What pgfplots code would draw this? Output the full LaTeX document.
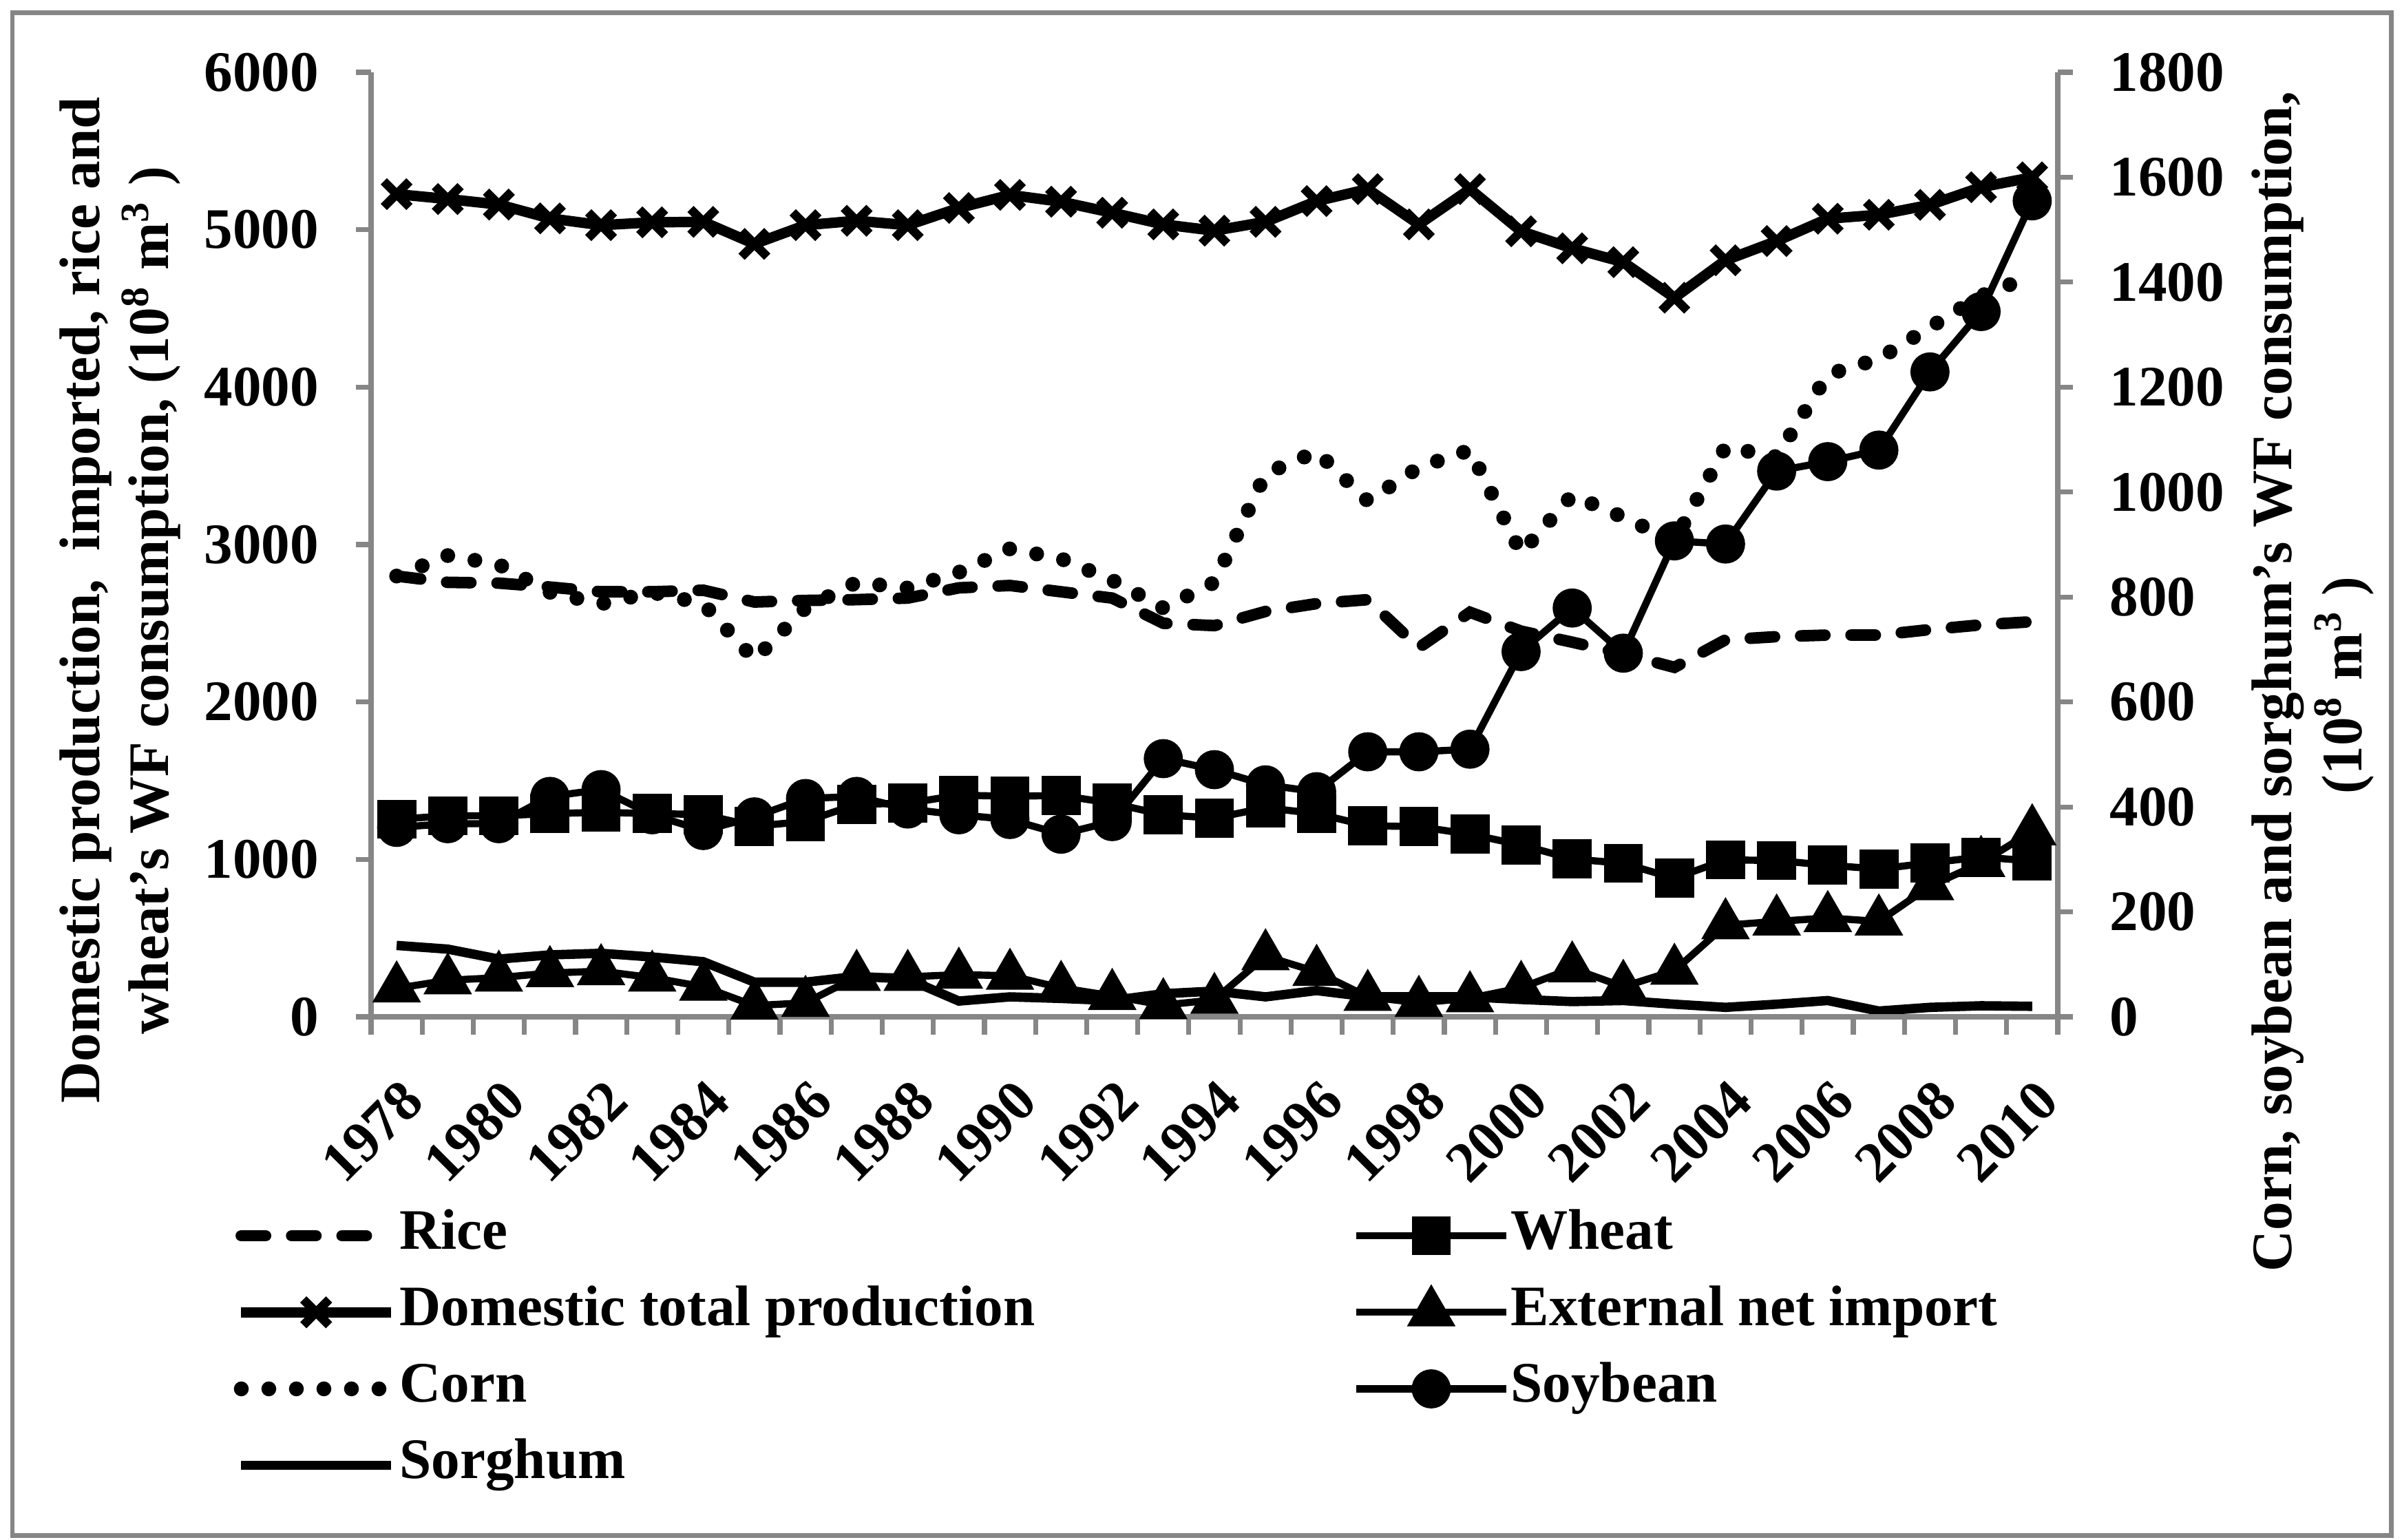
\documentclass[border=0pt]{standalone}
\usepackage{fontspec}
\setmainfont{Liberation Serif}
\usepackage{pgfplots}
\pgfplotsset{compat=1.18}
\definecolor{axgray}{RGB}{134,134,134}
\newcommand\lbl{\fontsize{10.4}{12.5}\selectfont\bfseries}

\pgfplotsset{
  common/.style={
    at={(67.375pt,94.875pt)}, anchor=south west, scale only axis,
    width=306.25pt, height=171.5pt,
    xmin=1977.5, xmax=2010.5, clip=false,
    axis line style={draw=axgray, line width=0.9pt},
    tick align=outside, major tick length=2.75pt, minor tick length=3.25pt,
    tick style={draw=axgray, line width=0.9pt},
    tick label style={font=\lbl},
    /pgf/number format/assume math mode=true,
    /pgf/number format/1000 sep={},
    legend image code/.code={\draw[mark repeat=2,mark phase=2,#1]
      plot coordinates {(0pt,0pt) (13.6pt,0pt) (27.2pt,0pt)};},
  },
  ricestyle/.style={black, line width=2.1pt, line cap=round, dash pattern=on 4.4pt off 4.75pt},
  cornstyle/.style={black, line width=2.7pt, line cap=round, dash pattern=on 0pt off 5pt},
  wheatstyle/.style={black, line width=1.3pt, mark=square*, mark size=2.9pt, mark options={solid}},
  domstyle/.style={black, line width=1.9pt, mark=x, mark size=3.3pt, mark options={solid, line width=1.6pt}},
  extstyle/.style={black, line width=1.3pt, mark=triangle*, mark size=3.8pt, mark options={solid}},
  soystyle/.style={black, line width=1.3pt, mark=*, mark size=2.9pt, mark options={solid}},
  sorstyle/.style={black, line width=1.7pt},
}

\begin{document}
\begin{tikzpicture}[x=1pt,y=1pt]
\useasboundingbox (0,0) rectangle (436.125,279.5);
\draw[axgray, line width=0.8pt] (2.25,0.7) rectangle (434.2,277.2);

% right axis: corn, soybean, sorghum
\begin{axis}[common,
  ymin=0, ymax=1800, ytick={0,200,...,1800},
  axis x line=none, axis y line*=right, xtick=\empty,
  yticklabel style={anchor=west, inner sep=0pt},
  yticklabel shift=6.5pt,
]
\addplot[cornstyle] coordinates {
(1978,840)(1979,879)(1980,862)(1981,809)(1982,787)(1983,809)(1984,787)(1985,681)
(1986,779)(1987,828)(1988,817)(1989,847)(1990,892)(1991,873)(1992,832)(1993,779)
(1994,828)(1995,1035)(1996,1077)(1997,983)(1998,1047)(1999,1080)(2000,884)(2001,994)
(2002,952)(2003,907)(2004,1086)(2005,1067)(2006,1224)(2007,1254)(2008,1314)(2009,1374)(2010,1412)};
\addplot[soystyle] coordinates {
(1978,361)(1979,368)(1980,368)(1981,420)(1982,433)(1983,385)(1984,355)(1985,381)
(1986,416)(1987,420)(1988,396)(1989,385)(1990,376)(1991,348)(1992,372)(1993,492)
(1994,471)(1995,442)(1996,429)(1997,505)(1998,505)(1999,510)(2000,696)(2001,779)
(2002,693)(2003,907)(2004,901)(2005,1040)(2006,1058)(2007,1080)(2008,1229)(2009,1344)(2010,1555)};
\addplot[sorstyle] coordinates {
(1978,136)(1979,129)(1980,110)(1981,118)(1982,121)(1983,114)(1984,105)(1985,66)
(1986,66)(1987,77)(1988,72)(1989,30)(1990,38)(1991,35)(1992,31)(1993,44)
(1994,49)(1995,38)(1996,50)(1997,38)(1998,38)(1999,38)(2000,33)(2001,29)
(2002,31)(2003,24)(2004,18)(2005,24)(2006,31)(2007,11)(2008,18)(2009,21)(2010,20)};
\end{axis}

% left axis: rice, wheat, domestic, external
\begin{axis}[common,
  ymin=0, ymax=6000, ytick={0,1000,...,6000},
  axis x line*=bottom, axis y line*=left,
  xtick={1978,1980,...,2010}, minor xtick={1977.5,1978.5,...,2010.5},
  major x tick style={draw=none},
  yticklabel style={anchor=east, inner sep=0pt},
  yticklabel shift=6.55pt,
  xticklabel style={rotate=45, anchor=north east, inner sep=0pt, xshift=0.6pt},
  xticklabel shift=8.4pt,
  legend columns=2,
  legend cell align=left,
  legend style={at={(axis description cs:-0.082,-0.2015)}, anchor=north west,
    draw=none, fill=none, inner sep=0pt, font=\lbl, row sep=3.9pt,
    nodes={inner sep=0pt, text height=7.4pt, text depth=2.6pt},
    /tikz/every odd column/.append style={column sep=0.2pt},
    /tikz/every even column/.append style={column sep=57.7pt}},
]
\addplot[ricestyle] coordinates {
(1978,2800)(1979,2760)(1980,2755)(1981,2730)(1982,2700)(1983,2700)(1984,2710)(1985,2635)
(1986,2645)(1987,2650)(1988,2660)(1989,2725)(1990,2740)(1991,2700)(1992,2660)(1993,2500)
(1994,2485)(1995,2575)(1996,2625)(1997,2650)(1998,2345)(1999,2570)(2000,2450)(2001,2380)
(2002,2305)(2003,2220)(2004,2395)(2005,2415)(2006,2425)(2007,2425)(2008,2460)(2009,2490)(2010,2510)};
\addlegendentry{Rice}
\addplot[wheatstyle] coordinates {
(1978,1255)(1979,1277)(1980,1277)(1981,1291)(1982,1299)(1983,1291)(1984,1285)(1985,1211)
(1986,1241)(1987,1350)(1988,1357)(1989,1408)(1990,1401)(1991,1406)(1992,1357)(1993,1284)
(1994,1262)(1995,1328)(1996,1291)(1997,1214)(1998,1208)(1999,1160)(2000,1092)(2001,1003)
(2002,975)(2003,880)(2004,997)(2005,993)(2006,963)(2007,939)(2008,978)(2009,1015)(2010,990)};
\addlegendentry{Wheat}
\addplot[domstyle] coordinates {
(1978,5226)(1979,5195)(1980,5160)(1981,5072)(1982,5029)(1983,5047)(1984,5050)(1985,4910)
(1986,5029)(1987,5057)(1988,5029)(1989,5138)(1990,5221)(1991,5178)(1992,5108)(1993,5034)
(1994,4994)(1995,5050)(1996,5182)(1997,5258)(1998,5034)(1999,5258)(2000,4990)(2001,4882)
(2002,4794)(2003,4568)(2004,4806)(2005,4928)(2006,5070)(2007,5095)(2008,5158)(2009,5270)(2010,5333)};
\addlegendentry{Domestic total production}
\addplot[extstyle] coordinates {
(1978,181)(1979,232)(1980,249)(1981,278)(1982,290)(1983,249)(1984,191)(1985,71)
(1986,89)(1987,254)(1988,254)(1989,268)(1990,261)(1991,184)(1992,133)(1993,74)
(1994,108)(1995,385)(1996,286)(1997,127)(1998,89)(1999,118)(2000,184)(2001,308)
(2002,191)(2003,293)(2004,582)(2005,606)(2006,628)(2007,606)(2008,830)(2009,978)(2010,1179)};
\addlegendentry{External net import}
\addlegendimage{cornstyle}
\addlegendentry{Corn}
\addlegendimage{soystyle}
\addlegendentry{Soybean}
\addlegendimage{sorstyle}
\addlegendentry{Sorghum}
\end{axis}

% axis titles
\node[rotate=90, anchor=base, font=\lbl] at (18.1,170.5)
  {Domestic production,\ \ imported, rice and};
\node[rotate=90, anchor=base, font=\lbl] at (30.6,170.5)
  {wheat's WF consumption, (10\textsuperscript{8} m\textsuperscript{3} )};
\node[rotate=90, anchor=base, font=\lbl] at (416.1,155.75)
  {Corn, soybean and sorghum's WF consumption,};
\node[rotate=90, anchor=base, font=\lbl] at (428.75,155.1)
  {(10\textsuperscript{8} m\textsuperscript{3} )};
\end{tikzpicture}
\end{document}
